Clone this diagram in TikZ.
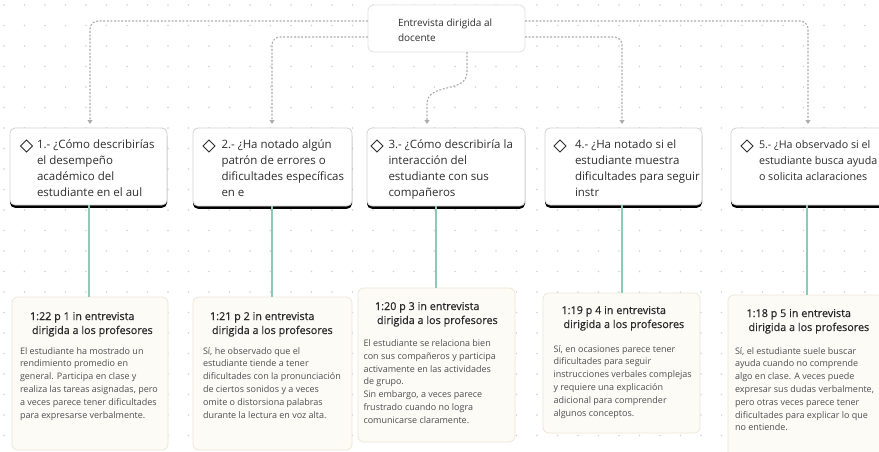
\documentclass[tikz,border=0pt]{standalone}
\usepackage{fontspec}
\setmainfont{Open Sans}
\newfontfamily\hdrfont[FakeBold=0.5]{Open Sans}
\usetikzlibrary{arrows.meta,shadows}
\definecolor{dotc}{HTML}{D2D2D2}
\definecolor{connc}{HTML}{ADADAD}
\definecolor{topb}{HTML}{E2E2E2}
\definecolor{qborder}{HTML}{D0D0D0}
\definecolor{eborder}{HTML}{EEE7D8}
\definecolor{efill}{HTML}{FDFBF6}
\definecolor{greenl}{HTML}{8DC9B6}
\definecolor{qtext}{HTML}{2E2E2E}
\definecolor{htext}{HTML}{2A2A2A}
\definecolor{btext}{HTML}{4E4E4E}
\newcommand\plines[1]{\parbox[t]{220pt}{\raggedright #1}}
\tikzset{
  every node/.style={inner sep=0pt, outer sep=0pt},
  topbox/.style={draw=topb, fill=white, rounded corners=6pt, line width=0.8pt, anchor=north west},
  qbox/.style={draw=qborder, fill=white, rounded corners=5pt, line width=0.8pt, anchor=north west,
    drop shadow={shadow xshift=0pt, shadow yshift=-2.8pt, fill=black, opacity=1}},
  ebox/.style={draw=eborder, fill=efill, rounded corners=6pt, line width=0.8pt, anchor=north west},
  toptxt/.style={anchor=base west, text=qtext, font=\fontsize{10}{15}\selectfont},
  qtxt/.style={anchor=base west, text=qtext, font=\fontsize{11.5}{16.2}\selectfont},
  htxt/.style={anchor=base west, text=htext, font=\hdrfont\fontsize{10.8}{14}\selectfont},
  btxt/.style={anchor=base west, text=btext, font=\fontsize{9}{12.8}\selectfont},
  conn/.style={draw=connc, line width=1.1pt, dash pattern=on 2pt off 1.6pt, rounded corners=8pt,
    -{Triangle[width=5pt,length=4pt]}, shorten >=4pt},
  glink/.style={draw=greenl, line width=1.2pt},
  diam/.style={draw=qtext, line width=0.8pt, minimum size=8.5pt, rotate=45, shape=rectangle}
}
\begin{document}
\begin{tikzpicture}[x=1pt,y=-1pt]
\clip (0,0) rectangle (879,452);
\fill[white] (0,0) rectangle (879,452);
% dot grid
\foreach \i in {0,...,43}{\foreach \j in {0,...,22}{\fill[dotc] (4+\i*20.5, 5+\j*20.5) circle (0.8pt);}}

% top box
\node[topbox, minimum width=157pt, minimum height=47pt] (top) at (368,5) {};
\node[toptxt] (toptext) at (398,27) {\plines{Entrevista dirigida al\\docente}};

% question boxes
\node[qbox, minimum width=157pt, minimum height=77pt] (q1) at (10,128) {};
\node[qbox, minimum width=159pt, minimum height=78pt] (q2) at (193,128) {};
\node[qbox, minimum width=158pt, minimum height=78pt] (q3) at (367,128) {};
\node[qbox, minimum width=157pt, minimum height=77pt] (q4) at (545,128) {};
\node[qbox, minimum width=157pt, minimum height=77pt] (q5) at (731,128) {};

\node[diam] (d1) at (26.5,146) {};
\node[diam] (d2) at (209,146) {};
\node[diam] (d3) at (377,146) {};
\node[diam] (d4) at (560,146) {};
\node[diam] (d5) at (747,146) {};

\node[qtxt] (q1t) at (37,148) {\plines{1.- ¿Cómo describirías\\el desempeño\\académico del\\estudiante en el aul}};
\node[qtxt] (q2t) at (221.5,148) {\plines{2.- ¿Ha notado algún\\patrón de errores o\\dificultades específicas\\en e}};
\node[qtxt] (q3t) at (388.5,148) {\plines{3.- ¿Cómo describiría la\\interacción del\\estudiante con sus\\compañeros}};
\node[qtxt] (q4t) at (575,148) {\plines{4.- ¿Ha notado si el\\estudiante muestra\\dificultades para seguir\\instr}};
\node[qtxt, font=\fontsize{10.7}{16.2}\selectfont] (q5t) at (759,148) {\plines{5.- ¿Ha observado si el\\estudiante busca ayuda\\o solicita aclaraciones}};

% connectors from top box
\draw[conn] (top.west |- 0,21) -- (90,21) -- (q1.north -| 90,0);
\draw[conn] (top.west |- 0,37) -- (272,37) -- (q2.north -| 272,0);
\draw[conn, rounded corners=0pt] (top.south -| 467,0) -- (467,72) .. controls (467,94) and (427,82) .. (427,104) -- (q3.north -| 427,0);
\draw[conn] (top.east |- 0,37) -- (622,37) -- (q4.north -| 622,0);
\draw[conn] (top.east |- 0,21) -- (808,21) -- (q5.north -| 808,0);

% evidence boxes
\node[ebox, minimum width=156pt, minimum height=153pt] (e1) at (12,297) {};
\node[ebox, minimum width=159pt, minimum height=153pt] (e2) at (193,297) {};
\node[ebox, minimum width=157pt, minimum height=154pt] (e3) at (358,288) {};
\node[ebox, minimum width=157pt, minimum height=140pt] (e4) at (543,293) {};
\node[ebox, minimum width=159pt, minimum height=170pt] (e5) at (728,295) {};

% green links
\draw[glink] (q1.south -| 89,0) -- (e1.north -| 89,0);
\draw[glink] (q2.south -| 272,0) -- (e2.north -| 272,0);
\draw[glink] (q3.south -| 436,0) -- (e3.north -| 436,0);
\draw[glink] (q4.south -| 622,0) -- (e4.north -| 622,0);
\draw[glink] (q5.south -| 807,0) -- (e5.north -| 807,0);

% evidence headers
\node[htxt] (h1) at (30,320) {\plines{1:22 p 1 in entrevista\\\hspace*{2pt}dirigida a los profesores}};
\node[htxt] (h2) at (210,320) {\plines{1:21 p 2 in entrevista\\\hspace*{2pt}dirigida a los profesores}};
\node[htxt] (h3) at (375,310) {\plines{1:20 p 3 in entrevista\\\hspace*{2pt}dirigida a los profesores}};
\node[htxt] (h4) at (561.5,314) {\plines{1:19 p 4 in entrevista\\\hspace*{2pt}dirigida a los profesores}};
\node[htxt] (h5) at (746.5,317) {\plines{1:18 p 5 in entrevista\\\hspace*{2pt}dirigida a los profesores}};

% evidence bodies
\node[btxt] (b1) at (20,354) {\plines{El estudiante ha mostrado un\\rendimiento promedio en\\general. Participa en clase y\\realiza las tareas asignadas, pero\\a veces parece tener dificultades\\para expresarse verbalmente.}};
\node[btxt] (b2) at (203,354) {\plines{Sí, he observado que el\\estudiante tiende a tener\\dificultades con la pronunciación\\de ciertos sonidos y a veces\\omite o distorsiona palabras\\durante la lectura en voz alta.}};
\node[btxt] (b3) at (363.5,346.5) {\plines{El estudiante se relaciona bien\\con sus compañeros y participa\\activamente en las actividades\\de grupo.\\Sin embargo, a veces parece\\frustrado cuando no logra\\comunicarse claramente.}};
\node[btxt] (b4) at (553.5,352) {\plines{Sí, en ocasiones parece tener\\dificultades para seguir\\instrucciones verbales complejas\\y requiere una explicación\\adicional para comprender\\algunos conceptos.}};
\node[btxt] (b5) at (735,354) {\plines{Sí, el estudiante suele buscar\\ayuda cuando no comprende\\algo en clase. A veces puede\\expresar sus dudas verbalmente,\\pero otras veces parece tener\\dificultades para explicar lo que\\no entiende.}};
\end{tikzpicture}
\end{document}
